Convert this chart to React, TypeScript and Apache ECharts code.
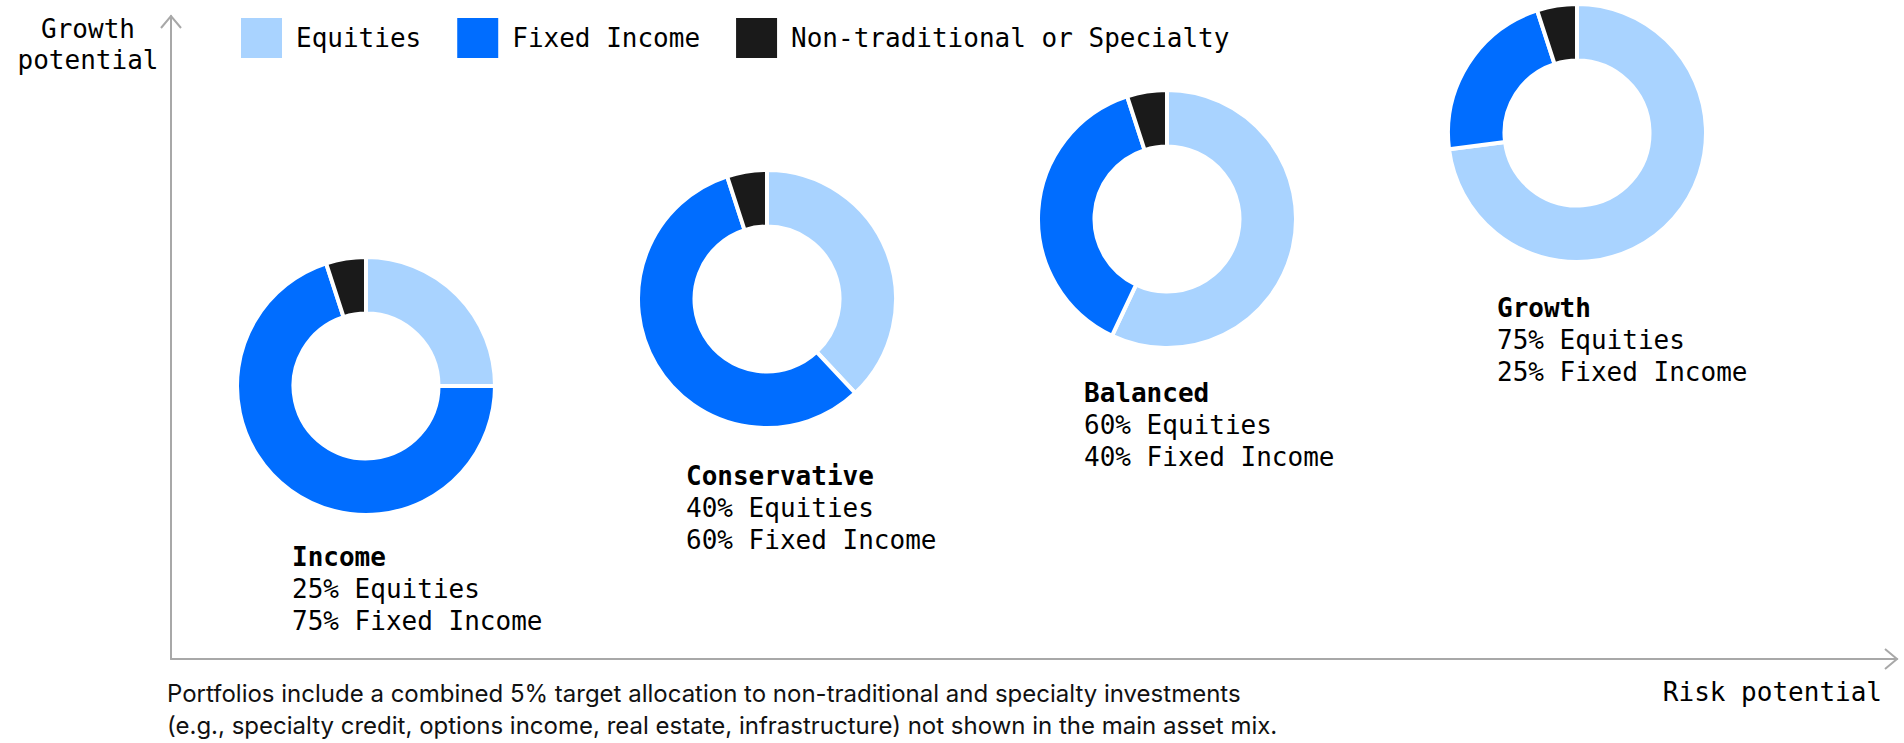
import React, { useEffect, useRef } from "react";
import * as echarts from "echarts";

// ---- data ----
const categories = ["Equities", "Fixed Income", "Non-traditional or Specialty"];
const portfolios = ["Income", "Conservative", "Balanced", "Growth"];
// slice values drawn in each donut (%)
const equitiesSlice = [25, 38, 57, 73];
const fixedIncomeSlice = [70, 57, 38, 22];
const specialtySlice = [5, 5, 5, 5];
// target mix shown in the captions (%)
const equitiesTarget = [25, 40, 60, 75];
const fixedIncomeTarget = [75, 60, 40, 25];
const yAxisTitle = ["Growth", "potential"];
const xAxisTitle = "Risk potential";
const footnote = [
  "Portfolios include a combined 5% target allocation to non-traditional and specialty investments",
  "(e.g., specialty credit, options income, real estate, infrastructure) not shown in the main asset mix.",
];

// ---- layout / style ----
const W = 1904;
const H = 743;
const COLORS = ["#A9D3FF", "#006DFF", "#1A1A1A"];
const MONO = "'DejaVu Sans Mono', 'Liberation Mono', monospace";
const SANS = "Inter, 'Noto Sans', sans-serif";
const AXIS = "#A8A8A8";
const centers = [
  [366, 386],
  [767, 299],
  [1167, 219],
  [1577, 133],
];
const captionPos = [
  [292, 557],
  [686, 476],
  [1084, 393],
  [1497, 308],
];
const FS = 26;
const LH = 32;

export default function App() {
  const ref = useRef<HTMLDivElement>(null);

  useEffect(() => {
    if (!ref.current) return;
    const chart = echarts.init(ref.current, undefined, { renderer: "svg" });

    const pies = portfolios.map((p, i) => ({
      type: "pie",
      name: p,
      center: centers[i],
      radius: [72.5, 129],
      startAngle: 90,
      clockwise: true,
      silent: true,
      label: { show: false },
      labelLine: { show: false },
      emphasis: { disabled: true },
      itemStyle: { borderColor: "#ffffff", borderWidth: 4 },
      data: [
        { name: categories[0], value: equitiesSlice[i] },
        { name: categories[1], value: fixedIncomeSlice[i] },
        { name: categories[2], value: specialtySlice[i] },
      ],
    }));

    const captions = portfolios.map((p, i) => ({
      type: "text",
      x: captionPos[i][0],
      y: captionPos[i][1] - LH / 2,
      silent: true,
      style: {
        text:
          `{b|${p}}\n{n|${equitiesTarget[i]}% ${categories[0]}}\n` +
          `{n|${fixedIncomeTarget[i]}% ${categories[1]}}`,
        verticalAlign: "top",
        align: "left",
        fill: "#000",
        rich: {
          b: { fontFamily: MONO, fontSize: FS, fontWeight: "bold", lineHeight: LH, fill: "#000" },
          n: { fontFamily: MONO, fontSize: FS, lineHeight: LH, fill: "#000" },
        },
      },
    }));

    const option: any = {
      animation: false,
      color: COLORS,
      backgroundColor: "#ffffff",
      legend: {
        left: 239,
        top: 16,
        padding: 0,
        orient: "horizontal",
        itemWidth: 43,
        itemHeight: 42,
        itemGap: 34,
        selectedMode: false,
        icon: "rect",
        data: categories,
        textStyle: {
          fontFamily: MONO,
          fontSize: FS,
          color: "#000",
          padding: [0, 0, 0, 8],
        },
      },
      grid: { left: 171, top: 16, right: 7, bottom: 84 },
      xAxis: {
        type: "value",
        min: 0,
        max: 100,
        axisLine: { show: true, lineStyle: { color: AXIS, width: 2 } },
        axisTick: { show: false },
        axisLabel: { show: false },
        splitLine: { show: false },
      },
      yAxis: {
        type: "value",
        min: 0,
        max: 100,
        axisLine: { show: true, lineStyle: { color: AXIS, width: 2 } },
        axisTick: { show: false },
        axisLabel: { show: false },
        splitLine: { show: false },
      },
      series: pies,
      graphic: [
        {
          type: "polyline",
          silent: true,
          shape: { points: [[1885, 649], [1897, 659], [1885, 669]] },
          style: { stroke: AXIS, lineWidth: 2, fill: null },
        },
        {
          type: "polyline",
          silent: true,
          shape: { points: [[161, 28], [171, 16], [181, 28]] },
          style: { stroke: AXIS, lineWidth: 2, fill: null },
        },
        {
          type: "text",
          x: 88,
          y: 29 - LH / 2,
          silent: true,
          style: {
            text: yAxisTitle.join("\n"),
            align: "center",
            verticalAlign: "top",
            fontFamily: MONO,
            fontSize: FS,
            lineHeight: 31,
            fill: "#000",
          },
        },
        {
          type: "text",
          x: 1882,
          y: 692,
          silent: true,
          style: {
            text: xAxisTitle,
            align: "right",
            verticalAlign: "middle",
            fontFamily: MONO,
            fontSize: FS,
            fill: "#000",
          },
        },
        {
          type: "text",
          x: 167,
          y: 693 - 16,
          silent: true,
          style: {
            text: footnote.join("\n"),
            align: "left",
            verticalAlign: "top",
            fontFamily: SANS,
            fontSize: 24,
            lineHeight: 32,
            fill: "#111",
          },
        },
        ...captions,
      ],
    };

    chart.setOption(option);
    return () => chart.dispose();
  }, []);

  return (
    <div
      ref={ref}
      style={{ position: "fixed", left: 0, top: 0, width: W, height: H, background: "#fff" }}
    />
  );
}
